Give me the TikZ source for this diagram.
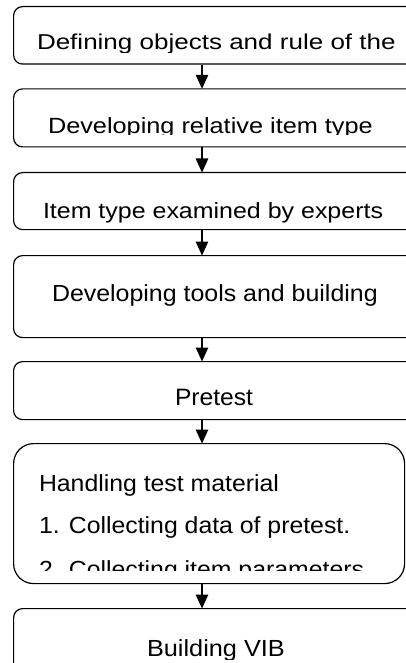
\documentclass[tikz,border=0pt]{standalone}
\usepackage{fontspec}
\setmainfont{Liberation Sans}
\usepackage{graphicx}
\usetikzlibrary{arrows.meta}
\newcommand{\fs}[3]{\scalebox{#2}[1]{\fontsize{#1}{#1}\selectfont #3}}
\tikzset{
  box/.style={draw=black, line width=1.2pt, rounded corners=9pt, minimum width=440pt, anchor=north west, inner sep=0pt, fill=none},
  txt/.style={anchor=base west, inner sep=0pt, outer sep=0pt},
  arr/.style={line width=1.2pt, -{Triangle[length=14pt,width=12.5pt]}, shorten >=-0.5pt}
}
\begin{document}
\begin{tikzpicture}[x=1pt,y=-1pt]
\useasboundingbox (0,0) rectangle (406,663);
\clip (0,0) rectangle (406,663);
\fill[white] (0,0) rectangle (406,663);
\coordinate (ax) at (202,0);
% boxes
\node[box, minimum height=57.5pt] (b1) at (13,6) {};
\node[box, minimum height=58pt] (b2) at (13,88.3) {};
\node[box, minimum height=57pt] (b3) at (13,172) {};
\node[box, minimum height=82pt] (b4) at (13,255) {};
\node[box, minimum height=58pt] (b5) at (13,361) {};
\node[box, minimum height=140pt, minimum width=391pt, rounded corners=20pt] (b6) at (13,443) {};
\node[box, minimum height=80pt] (b7) at (13,608) {};
% texts
\begin{scope}
\clip (0,0) rectangle (406,52.5);
\node[txt] (t1) at (37,49.8) {\fs{21.5}{1.21}{Defining objects and rule of the}};
\end{scope}
\begin{scope}
\clip (0,88) rectangle (406,135);
\node[txt] (t2) at (48,133.5) {\fs{22}{1.15}{Developing relative item type}};
\end{scope}
\node[txt] (t3) at (43,218.3) {\fs{22}{1.135}{Item type examined by experts}};
\node[txt] (t4) at (52,301.7) {\fs{23.3}{1.07}{Developing tools and building}};
\node[txt] (t5) at (175,405) {\fs{23.7}{1.04}{Pretest}};
\node[txt] (t6a) at (39,491.7) {\fs{23.3}{1.065}{Handling test material}};
\node[txt] (t6b) at (39,533.3) {\fs{23.3}{1.065}{1. Collecting data of pretest.}};
\begin{scope}
\clip (0,540) rectangle (406,570);
\node[txt] (t6c) at (39,577.5) {\fs{23.3}{1.065}{2. Collecting item parameters}};
\end{scope}
\begin{scope}
\clip (0,610) rectangle (406,659);
\node[txt] (t7) at (147,656) {\fs{23.3}{1.086}{Building VIB}};
\end{scope}
% arrows
\draw[arr] (b1.south -| ax) -- (b2.north -| ax);
\draw[arr] (b2.south -| ax) -- (b3.north -| ax);
\draw[arr] (b3.south -| ax) -- (b4.north -| ax);
\draw[arr] (b4.south -| ax) -- (b5.north -| ax);
\draw[arr] (b5.south -| ax) -- (b6.north -| ax);
\draw[arr] (b6.south -| ax) -- (b7.north -| ax);
\end{tikzpicture}
\end{document}
